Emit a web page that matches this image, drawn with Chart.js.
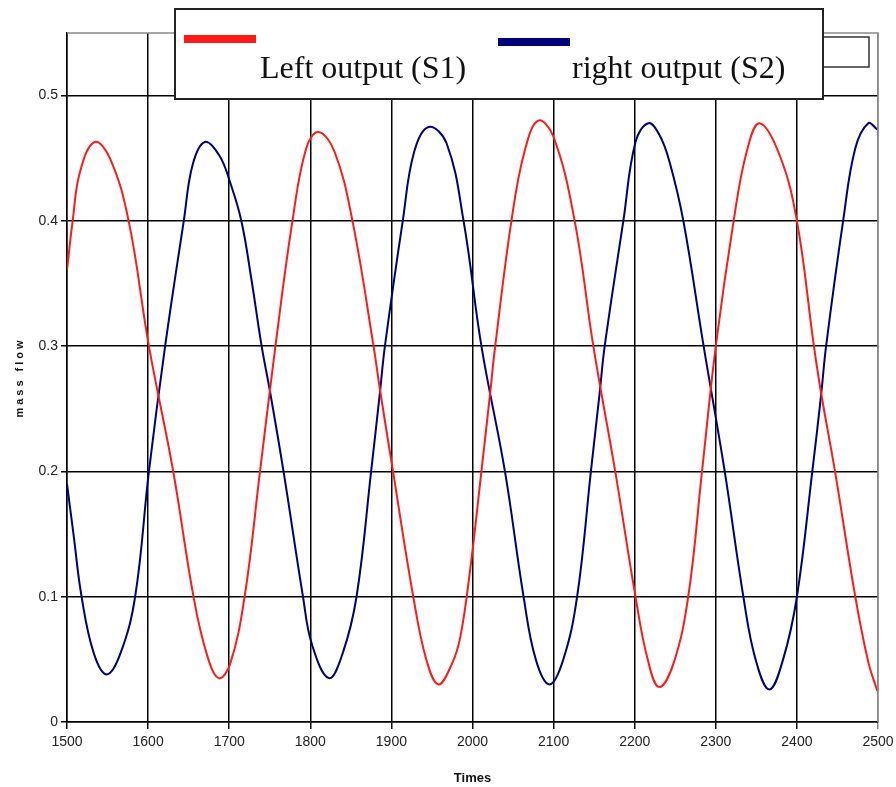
<!DOCTYPE html>
<html>
<head>
<meta charset="utf-8">
<title>mass flow</title>
<script src="https://cdn.jsdelivr.net/npm/chart.js@4.4.1/dist/chart.umd.min.js"></script>
<style>
  body { margin: 0; background: #fff; }
  #chart { display: block; }
</style>
</head>
<body>
<canvas id="chart" width="896" height="787"></canvas>
<script>
// values (time, mass flow)
const s1Times = [1500, 1507, 1516, 1534, 1553, 1576, 1601, 1631, 1656, 1672, 1687, 1701, 1719, 1738, 1757, 1778, 1795, 1810,
  1830, 1852, 1878, 1886, 1902, 1927, 1943, 1958, 1975, 1985, 1997, 2011, 2022, 2028, 2048, 2064, 2081, 2100, 2126,
  2149, 2176, 2201, 2216, 2230, 2248, 2266, 2283, 2300, 2322, 2338, 2354, 2379, 2400, 2421, 2430, 2447,
  2472, 2488, 2499];
const s1Values = [0.361, 0.400, 0.439, 0.463, 0.450, 0.400, 0.300, 0.200, 0.100, 0.055, 0.035, 0.046, 0.100, 0.200, 0.300, 0.400, 0.458, 0.471,
  0.455, 0.400, 0.300, 0.265, 0.200, 0.100, 0.050, 0.030, 0.047, 0.068, 0.121, 0.200, 0.264, 0.300, 0.400, 0.455, 0.480, 0.467, 0.400,
  0.300, 0.200, 0.100, 0.050, 0.028, 0.047, 0.100, 0.200, 0.300, 0.400, 0.455, 0.478, 0.452, 0.400, 0.300, 0.262, 0.200,
  0.100, 0.048, 0.025];

const s2Times = [1500, 1508, 1518, 1533, 1549, 1566, 1584, 1601, 1621, 1644, 1655, 1670, 1688, 1701, 1715, 1727, 1740, 1750, 1767, 1791,
  1802, 1823, 1840, 1857, 1875, 1886, 1892, 1914, 1928, 1946, 1968, 1989, 2011, 2040, 2063, 2078, 2095,
  2112, 2129, 2146, 2157, 2163, 2186, 2201, 2217, 2231, 2243, 2260, 2285, 2311, 2334, 2349, 2366, 2383, 2400,
  2419, 2430, 2436, 2457, 2472, 2488, 2499];
const s2Values = [0.190, 0.150, 0.100, 0.055, 0.038, 0.055, 0.100, 0.200, 0.300, 0.400, 0.445, 0.463, 0.452, 0.431, 0.400, 0.355, 0.300, 0.265, 0.200, 0.100,
  0.062, 0.035, 0.055, 0.100, 0.200, 0.264, 0.300, 0.400, 0.455, 0.475, 0.462, 0.400, 0.300, 0.200, 0.100, 0.050, 0.030,
  0.050, 0.100, 0.200, 0.264, 0.300, 0.400, 0.463, 0.478, 0.468, 0.447, 0.400, 0.300, 0.200, 0.100, 0.050, 0.026, 0.050, 0.100,
  0.200, 0.262, 0.300, 0.400, 0.458, 0.478, 0.473];

const seriesLabels = ["Left output (S1)", "right output (S2)"];
const seriesColors = ["#ff1a1a", "#00007a"];
const xTitle = "Times";
const yTitle = "mass flow";

const toPoints = (xs, ys) => xs.map((x, i) => ({ x, y: ys[i] }));

// legend box drawn over the top of the plot, plus titles and the gray frame
const decorations = {
  id: "decorations",
  afterDraw(chart) {
    const { ctx, chartArea: a } = chart;
    ctx.save();

    // gray top / right frame
    ctx.strokeStyle = "#8a8a8a";
    ctx.lineWidth = 1.5;
    ctx.beginPath();
    ctx.moveTo(a.left, a.top);
    ctx.lineTo(a.right, a.top);
    ctx.lineTo(a.right, a.bottom);
    ctx.stroke();

    // leftover small box behind the legend
    ctx.fillStyle = "#fff";
    ctx.fillRect(823, 37, 46, 30);
    ctx.strokeStyle = "#333";
    ctx.strokeRect(823, 37, 46, 30);

    // legend
    ctx.fillStyle = "#fff";
    ctx.fillRect(175, 9, 648, 90);
    ctx.strokeStyle = "#222";
    ctx.lineWidth = 2;
    ctx.strokeRect(175, 9, 648, 90);

    const swatches = [
      { x1: 184, x2: 256, y: 39, tx: 260 },
      { x1: 498, x2: 570, y: 42, tx: 572 }
    ];
    ctx.lineWidth = 8;
    swatches.forEach((s, i) => {
      ctx.strokeStyle = chart.data.datasets[i].borderColor;
      ctx.beginPath();
      ctx.moveTo(s.x1, s.y);
      ctx.lineTo(s.x2, s.y);
      ctx.stroke();
      ctx.fillStyle = "#111";
      ctx.font = "32px 'Liberation Serif', 'Times New Roman', serif";
      ctx.textAlign = "left";
      ctx.textBaseline = "alphabetic";
      ctx.fillText(chart.data.datasets[i].label, s.tx, 78);
    });

    // axis titles
    ctx.fillStyle = "#111";
    ctx.textAlign = "center";
    ctx.textBaseline = "middle";
    ctx.font = "bold 13px 'Liberation Sans', Arial, sans-serif";
    ctx.fillText(xTitle, (a.left + a.right) / 2, 778);

    ctx.translate(20, (a.top + a.bottom) / 2);
    ctx.rotate(-Math.PI / 2);
    ctx.font = "bold 11px 'Liberation Sans', Arial, sans-serif";
    ctx.letterSpacing = "3px";
    ctx.fillText(yTitle, 0, 0);
    ctx.restore();
  }
};

const tickFont = { family: "'Liberation Sans', Arial, sans-serif", size: 14 };

new Chart(document.getElementById("chart"), {
  type: "line",
  data: {
    datasets: [
      {
        label: seriesLabels[0],
        data: toPoints(s1Times, s1Values),
        borderColor: seriesColors[0],
        borderWidth: 2,
        pointRadius: 0,
        tension: 0.4
      },
      {
        label: seriesLabels[1],
        data: toPoints(s2Times, s2Values),
        borderColor: seriesColors[1],
        borderWidth: 2,
        pointRadius: 0,
        tension: 0.4
      }
    ]
  },
  options: {
    responsive: false,
    animation: false,
    devicePixelRatio: 1,
    layout: { padding: { left: 0, top: 33, right: 18, bottom: 0 } },
    plugins: {
      legend: { display: false },
      tooltip: { enabled: false }
    },
    scales: {
      x: {
        type: "linear",
        min: 1500,
        max: 2500,
        z: 1,
        afterFit: (scale) => {
          scale.height = 65;
          scale.paddingLeft = 0;
          scale.paddingRight = 0;
        },
        ticks: {
          stepSize: 100,
          color: "#222",
          font: tickFont,
          padding: 5,
          maxRotation: 0,
          callback: (v) => String(v)
        },
        grid: {
          color: (c) => (c.tick && c.tick.value === 2500 ? "#8a8a8a" : "#000"),
          lineWidth: 1.5,
          tickLength: 7
        },
        border: { color: "#000", width: 1.5 }
      },
      y: {
        min: 0,
        max: 0.55,
        z: 1,
        afterFit: (scale) => { scale.width = 67; },
        ticks: {
          stepSize: 0.1,
          includeBounds: false,
          color: "#222",
          font: tickFont,
          padding: 3
        },
        grid: {
          color: "#000",
          lineWidth: 1.5,
          tickLength: 6
        },
        border: { color: "#000", width: 1.5 }
      }
    }
  },
  plugins: [decorations]
});
</script>
</body>
</html>
